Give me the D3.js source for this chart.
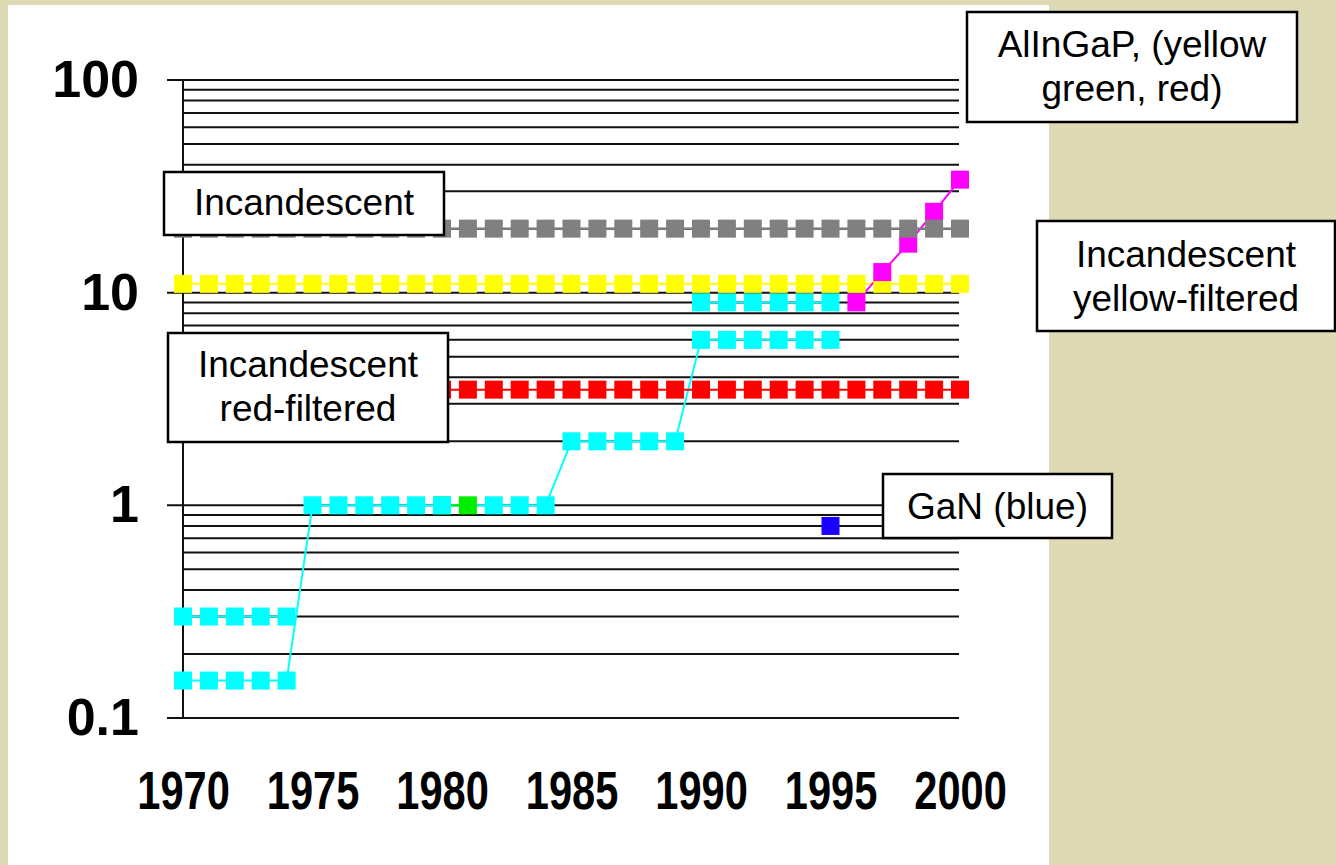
<!DOCTYPE html>
<html>
<head>
<meta charset="utf-8">
<script src="https://cdn.jsdelivr.net/npm/d3@7"></script>
<style>
  html, body { margin: 0; padding: 0; background: #dedab5; }
  svg { display: block; }
  text { font-family: "Liberation Sans", Arial, sans-serif; }
</style>
</head>
<body>
<script>
// --- data ---
var allYears = [1970,1971,1972,1973,1974,1975,1976,1977,1978,1979,1980,1981,1982,1983,1984,1985,
                1986,1987,1988,1989,1990,1991,1992,1993,1994,1995,1996,1997,1998,1999,2000];

var incandescentValues   = [20,20,20,20,20,20,20,20,20,20,20,20,20,20,20,20,20,20,20,20,20,20,20,20,20,20,20,20,20,20,20];
var yellowFilteredValues = [11,11,11,11,11,11,11,11,11,11,11,11,11,11,11,11,11,11,11,11,11,11,11,11,11,11,11,11,11,11,11];
var redFilteredValues    = [3.5,3.5,3.5,3.5,3.5,3.5,3.5,3.5,3.5,3.5,3.5,3.5,3.5,3.5,3.5,3.5,3.5,3.5,3.5,3.5,3.5,3.5,3.5,3.5,3.5,3.5,3.5,3.5,3.5,3.5,3.5];

var earlyYears  = [1970,1971,1972,1973,1974];
var earlyValues = [0.3,0.3,0.3,0.3,0.3];

var mainLedYears  = [1970,1971,1972,1973,1974,1975,1976,1977,1978,1979,1980,1982,1983,1984,
                     1985,1986,1987,1988,1989,1990,1991,1992,1993,1994,1995];
var mainLedValues = [0.15,0.15,0.15,0.15,0.15,1,1,1,1,1,1,1,1,1,
                     2,2,2,2,2,6,6,6,6,6,6];

var topLedYears  = [1990,1991,1992,1993,1994,1995];
var topLedValues = [9,9,9,9,9,9];

var greenYears  = [1980,1981];
var greenValues = [1,1];

var ganYears  = [1995];
var ganValues = [0.8];

var alingapYears  = [1996,1997,1998,1999,2000];
var alingapValues = [9,12.5,17,24,34];

var xTickValues = [1970,1975,1980,1985,1990,1995,2000];
var yTickValues = [0.1,1,10,100];
var yTickLabels = ["0.1","1","10","100"];

// --- layout ---
var W = 1336, H = 865;
var svg = d3.select("body").append("svg").attr("width", W).attr("height", H);

svg.append("rect").attr("x", 8).attr("y", 5).attr("width", 1041).attr("height", H - 5).attr("fill", "#fff");

var x = d3.scaleLinear().domain([1970, 2000]).range([183, 960]);
var y = d3.scaleLog().domain([0.1, 100]).range([718, 80]);

// grid lines (log minor + major)
var grid = svg.append("g");
y.ticks().forEach(function (t) {
    var major = Math.abs(Math.log10(t) - Math.round(Math.log10(t))) < 1e-9;
    grid.append("line")
        .attr("x1", major ? 167 : 183).attr("x2", 959)
        .attr("y1", y(t)).attr("y2", y(t))
        .attr("stroke", "#111").attr("stroke-width", 2);
});
grid.append("line").attr("x1", 183).attr("x2", 183).attr("y1", y(100)).attr("y2", y(0.1))
    .attr("stroke", "#111").attr("stroke-width", 2);

// y labels
svg.append("g").selectAll("text").data(yTickValues).enter().append("text")
    .attr("transform", function (d) { return "translate(139," + (y(d) + 17) + ")"; })
    .attr("text-anchor", "end")
    .attr("font-size", 52).attr("font-weight", "bold")
    .text(function (d, i) { return yTickLabels[i]; });

// x labels
var xAxis = svg.append("g").attr("transform", "translate(0,809)")
    .call(d3.axisBottom(x).tickValues(xTickValues).tickSize(0).tickPadding(0).tickFormat(d3.format("d")));
xAxis.select(".domain").remove();
xAxis.selectAll("text")
    .attr("y", 0).attr("dy", 0).attr("x", 0)
    .attr("font-size", 54).attr("font-weight", "bold")
    .attr("font-family", "'Liberation Sans', Arial, sans-serif")
    .attr("fill", "#000")
    .attr("transform", "scale(0.77,1)");

// series
function pts(years, values) {
    return years.map(function (yr, i) { return { year: yr, value: values[i] }; });
}
var series = [
    { color: "#00ffff", data: pts(earlyYears, earlyValues) },
    { color: "#00ffff", data: pts(mainLedYears, mainLedValues) },
    { color: "#00ffff", data: pts(topLedYears, topLedValues) },
    { color: "#00ee00", data: pts(greenYears, greenValues) },
    { color: "#1a00ff", data: pts(ganYears, ganValues) },
    { color: "#ffff00", data: pts(allYears, yellowFilteredValues) },
    { color: "#ff0000", data: pts(allYears, redFilteredValues) },
    { color: "#ff00ff", data: pts(alingapYears, alingapValues) },
    { color: "#808080", data: pts(allYears, incandescentValues) }
];

var line = d3.line().x(function (d) { return x(d.year); }).y(function (d) { return y(d.value); });
var lines = svg.append("g");
series.forEach(function (s) {
    lines.append("path").datum(s.data).attr("d", line)
        .attr("fill", "none").attr("stroke", s.color).attr("stroke-width", 2);
});

// cyan markers sit over the green 1980 point
var markerOrder = [3, 0, 1, 2, 4, 5, 6, 7, 8];
var M = 18;
var marks = svg.append("g");
markerOrder.forEach(function (k) {
    var s = series[k];
    marks.append("g").selectAll("rect").data(s.data).enter().append("rect")
        .attr("x", function (d) { return x(d.year) - M / 2; })
        .attr("y", function (d) { return y(d.value) - M / 2; })
        .attr("width", M).attr("height", M)
        .attr("fill", s.color);
});

// annotation boxes
var boxes = [
    { x: 164, y: 172, w: 280, h: 63, lines: ["Incandescent"], base: 215 },
    { x: 168, y: 333, w: 280, h: 109, lines: ["Incandescent", "red-filtered"], base: 377 },
    { x: 967, y: 12, w: 330, h: 110, lines: ["AlInGaP, (yellow", "green, red)"], base: 57 },
    { x: 1037, y: 221, w: 298, h: 110, lines: ["Incandescent", "yellow-filtered"], base: 267 },
    { x: 883, y: 474, w: 229, h: 64, lines: ["GaN (blue)"], base: 519 }
];
boxes.forEach(function (b) {
    var g = svg.append("g");
    g.append("rect").attr("x", b.x).attr("y", b.y).attr("width", b.w).attr("height", b.h)
        .attr("fill", "#fff").attr("stroke", "#000").attr("stroke-width", 2.5);
    b.lines.forEach(function (t, i) {
        g.append("text").attr("x", b.x + b.w / 2).attr("y", b.base + i * 44)
            .attr("text-anchor", "middle").attr("font-size", 37).attr("fill", "#000").text(t);
    });
});
</script>
</body>
</html>
